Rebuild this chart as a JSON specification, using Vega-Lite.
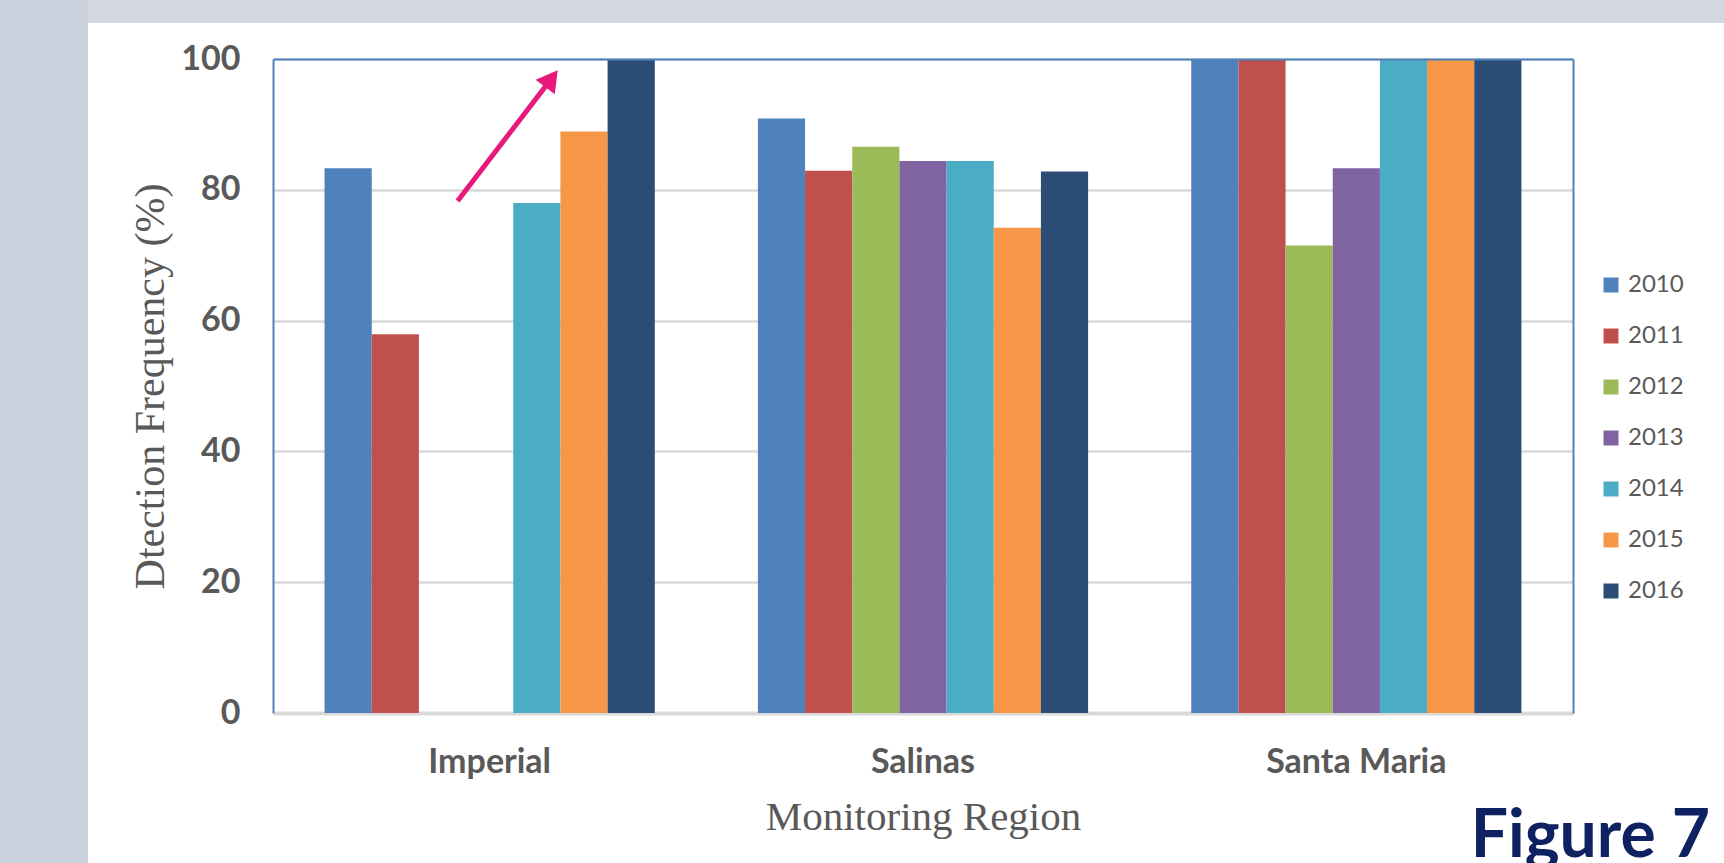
{
  "$schema": "https://vega.github.io/schema/vega-lite/v6.json",
  "padding": 0,
  "background": "#ffffff",
  "spacing": 0,
  "bounds": "flush",
  "config": {"view": {"stroke": null}, "font": "Lato"},
  "datasets": {
    "detection": [
      {"region": "Imperial", "year": "2010", "value": 83.3},
      {"region": "Imperial", "year": "2011", "value": 57.9},
      {"region": "Imperial", "year": "2014", "value": 78.0},
      {"region": "Imperial", "year": "2015", "value": 88.9},
      {"region": "Imperial", "year": "2016", "value": 100},
      {"region": "Salinas", "year": "2010", "value": 90.9},
      {"region": "Salinas", "year": "2011", "value": 82.9},
      {"region": "Salinas", "year": "2012", "value": 86.6},
      {"region": "Salinas", "year": "2013", "value": 84.4},
      {"region": "Salinas", "year": "2014", "value": 84.4},
      {"region": "Salinas", "year": "2015", "value": 74.2},
      {"region": "Salinas", "year": "2016", "value": 82.8},
      {"region": "Santa Maria", "year": "2010", "value": 100},
      {"region": "Santa Maria", "year": "2011", "value": 100},
      {"region": "Santa Maria", "year": "2012", "value": 71.5},
      {"region": "Santa Maria", "year": "2013", "value": 83.3},
      {"region": "Santa Maria", "year": "2014", "value": 100},
      {"region": "Santa Maria", "year": "2015", "value": 100},
      {"region": "Santa Maria", "year": "2016", "value": 100}
    ],
    "arrow": [
      {"x": 14.2, "y": 78.3, "x2": 21.42, "y2": 97.0}
    ]
  },
  "hconcat": [
    {
      "data": {"values": []},
      "mark": "point",
      "width": 88,
      "height": 863,
      "view": {"fill": "#cbd1dc", "stroke": null}
    },
    {
      "spacing": 36,
      "bounds": "flush",
      "vconcat": [
        {
          "data": {"values": []},
          "mark": "point",
          "width": 1636,
          "height": 23,
          "view": {"fill": "#d3d8e2", "stroke": null}
        },
        {
          "spacing": 184,
          "bounds": "flush",
          "hconcat": [
            {
              "data": {"values": []},
              "mark": "point",
              "width": 1,
              "height": 654
            },
            {
              "width": 1300,
              "height": 654,
              "title": {
                "text": "Figure 7",
                "orient": "bottom",
                "anchor": "end",
                "frame": "group",
                "font": "Lato",
                "fontSize": 66,
                "fontWeight": "bold",
                "color": "#0e2160",
                "baseline": "alphabetic",
                "offset": 20,
                "dx": 137
              },
              "resolve": {"scale": {"x": "independent", "y": "independent"}},
              "layer": [
                {
                  "data": {"name": "detection"},
                  "mark": {"type": "bar"},
                  "encoding": {
                    "x": {
                      "field": "region",
                      "type": "nominal",
                      "sort": ["Imperial", "Salinas", "Santa Maria"],
                      "scale": {"paddingInner": 0.238, "paddingOuter": 0.119},
                      "axis": {
                        "title": "Monitoring Region",
                        "labelAngle": 0,
                        "labelLimit": 0,
                        "labelFont": "Lato",
                        "labelFontWeight": "bold",
                        "labelFontSize": 34,
                        "labelColor": "#595959",
                        "labelPadding": 32,
                        "ticks": false,
                        "tickSize": 0,
                        "domainColor": "#d9d9d9",
                        "domainWidth": 4,
                        "titleFont": "Liberation Serif",
                        "titleFontWeight": "normal",
                        "titleFontSize": 41,
                        "titleColor": "#595959",
                        "titlePadding": 18
                      }
                    },
                    "xOffset": {
                      "field": "year",
                      "type": "nominal",
                      "scale": {
                        "domain": ["2010", "2011", "2012", "2013", "2014", "2015", "2016"],
                        "paddingInner": 0,
                        "paddingOuter": 0
                      }
                    },
                    "y": {
                      "field": "value",
                      "type": "quantitative",
                      "scale": {"domain": [0, 100], "nice": false},
                      "axis": {
                        "title": "Dtection Frequency (%)",
                        "values": [0, 20, 40, 60, 80, 100],
                        "grid": true,
                        "gridColor": "#d9d9d9",
                        "gridWidth": 2.5,
                        "domainColor": "#4f81bd",
                        "domainWidth": 2,
                        "ticks": false,
                        "tickSize": 0,
                        "labelPadding": 33,
                        "labelFont": "Lato",
                        "labelFontWeight": "bold",
                        "labelFontSize": 34,
                        "labelColor": "#595959",
                        "titleFont": "Liberation Serif",
                        "titleFontWeight": "normal",
                        "titleFontSize": 42,
                        "titleColor": "#595959",
                        "titlePadding": 8
                      }
                    },
                    "color": {
                      "field": "year",
                      "type": "nominal",
                      "scale": {
                        "domain": ["2010", "2011", "2012", "2013", "2014", "2015", "2016"],
                        "range": ["#4f81bd", "#c0504d", "#9bbb59", "#8064a2", "#4bacc6", "#f79646", "#2c4d75"]
                      },
                      "legend": {
                        "orient": "none",
                        "legendX": 1599,
                        "legendY": 273,
                        "title": null,
                        "symbolType": "square",
                        "symbolSize": 225,
                        "symbolStrokeWidth": 0,
                        "labelFont": "Lato",
                        "labelFontSize": 24,
                        "labelColor": "#595959",
                        "labelOffset": 5,
                        "rowPadding": 27,
                        "padding": 0
                      }
                    }
                  }
                },
                {
                  "data": {"name": "arrow"},
                  "mark": {"type": "rule", "color": "#e8197b", "strokeWidth": 5},
                  "encoding": {
                    "x": {
                      "field": "x",
                      "type": "quantitative",
                      "scale": {"domain": [0, 100], "nice": false, "zero": false},
                      "axis": {
                        "orient": "top",
                        "title": null,
                        "labels": false,
                        "ticks": false,
                        "grid": false,
                        "domainColor": "#4f81bd",
                        "domainWidth": 2,
                        "zindex": 1
                      }
                    },
                    "x2": {"field": "x2"},
                    "y": {
                      "field": "y",
                      "type": "quantitative",
                      "scale": {"domain": [0, 100], "nice": false, "zero": false},
                      "axis": {
                        "orient": "right",
                        "title": null,
                        "labels": false,
                        "ticks": false,
                        "grid": false,
                        "domainColor": "#4f81bd",
                        "domainWidth": 2,
                        "zindex": 1
                      }
                    },
                    "y2": {"field": "y2"}
                  }
                },
                {
                  "data": {"name": "arrow"},
                  "mark": {"type": "point", "shape": "triangle-up", "filled": true, "color": "#e8197b", "opacity": 1, "size": 576, "angle": 37},
                  "encoding": {
                    "x": {
                      "field": "x2",
                      "type": "quantitative",
                      "scale": {"domain": [0, 100], "nice": false, "zero": false},
                      "axis": null
                    },
                    "y": {
                      "field": "y2",
                      "type": "quantitative",
                      "scale": {"domain": [0, 100], "nice": false, "zero": false},
                      "axis": null
                    }
                  }
                }
              ]
            }
          ]
        }
      ]
    }
  ]
}
